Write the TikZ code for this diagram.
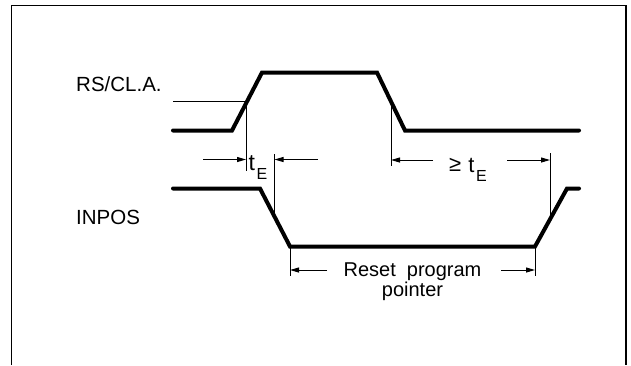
\documentclass[tikz,border=0pt]{standalone}
\usepackage{fontspec}
\setmainfont{Liberation Sans}
\usetikzlibrary{arrows.meta}
\begin{document}
\begin{tikzpicture}[x=1pt,y=-1pt,
  sig/.style={line width=4pt, line cap=round, line join=miter},
  thinline/.style={line width=1pt},
  dimarrow/.style={line width=1pt, -{Triangle[length=9pt,width=5pt]}},
  lbl/.style={inner sep=0pt, anchor=base west, font=\fontsize{20.5}{24}\selectfont},
  ctr/.style={inner sep=0pt, anchor=base, font=\fontsize{20}{24}\selectfont},
]
\useasboundingbox (0,0) rectangle (631,365);
\draw[line width=1.3pt] (11.7,365) -- (11.7,5.3) -- (626,5.3) -- (626,365);

% RS/CL.A. signal
\coordinate (r0) at (173,130.5);
\coordinate (r1) at (232,130.5);
\coordinate (r2) at (262,72.5);
\coordinate (r3) at (377,72.5);
\coordinate (r4) at (405,130.5);
\coordinate (r5) at (579,130.5);
\draw[sig] (r0) -- (r1) -- (r2) -- (r3) -- (r4) -- (r5);

% INPOS signal
\coordinate (i0) at (173,188.5);
\coordinate (i1) at (260,188.5);
\coordinate (i2) at (290,246.5);
\coordinate (i3) at (535,246.5);
\coordinate (i4) at (567,188.5);
\coordinate (i5) at (579,188.5);
\draw[sig] (i0) -- (i1) -- (i2) -- (i3) -- (i4) -- (i5);

% threshold and reference lines
\coordinate (thL) at (173,101.5);
\coordinate (rx1) at (247,101.5);
\coordinate (v1t) at (246,101.5);
\coordinate (v1b) at (246,171);
\coordinate (v2t) at (274.5,154);
\coordinate (v2b) at (274.5,217.5);
\coordinate (rx2) at (391,101.5);
\coordinate (v3b) at (391,166);
\coordinate (v4t) at (550,153);
\coordinate (v4b) at (550,219);
\coordinate (v5b) at (290,276);
\coordinate (v6b) at (535,276);
\draw[thinline] (thL) -- (rx1);
\draw[thinline] (v1t) -- (v1b);
\draw[thinline] (v2t) -- (v2b);
\draw[thinline] (rx2) -- (v3b);
\draw[thinline] (v4t) -- (v4b);
\draw[thinline] (i2) -- (v5b);
\draw[thinline] (i3) -- (v6b);

% dimension arrows
\coordinate (a1s) at (203,159.5);
\coordinate (a1e) at (246,159.5);
\coordinate (a2s) at (318,159.5);
\coordinate (a2e) at (274.5,159.5);
\coordinate (a3s) at (433,160);
\coordinate (a3e) at (391,160);
\coordinate (a4s) at (507,160);
\coordinate (a4e) at (550,160);
\coordinate (a5s) at (327,270);
\coordinate (a5e) at (290,270);
\coordinate (a6s) at (501,270);
\coordinate (a6e) at (535,270);
\draw[dimarrow] (a1s) -- (a1e);
\draw[dimarrow] (a2s) -- (a2e);
\draw[dimarrow] (a3s) -- (a3e);
\draw[dimarrow] (a4s) -- (a4e);
\draw[dimarrow] (a5s) -- (a5e);
\draw[dimarrow] (a6s) -- (a6e);

% labels
\node[lbl] (rs) at (76,91) {RS/CL.A.};
\node[lbl] (inpos) at (76,224) {INPOS};
\node[lbl] (te1) at (248.5,170) {\fontsize{23}{24}\selectfont t\kern1.5pt\raisebox{-9pt}{\fontsize{16}{16}\selectfont E}};
\node[lbl] (te2) at (449,171) {\fontsize{22}{24}\selectfont ≥\kern1pt\ \raisebox{-1pt}{t}\kern1.5pt\raisebox{-10pt}{\fontsize{16}{16}\selectfont E}};
\node[ctr] (reset) at (412.5,276) {Reset\ \ program};
\node[ctr] (pointer) at (412.5,296) {pointer};
\end{tikzpicture}
\end{document}
